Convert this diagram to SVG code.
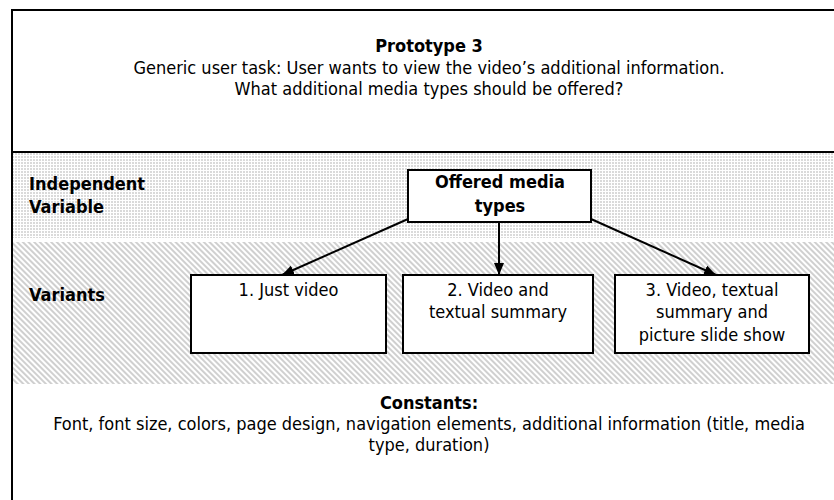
<svg xmlns="http://www.w3.org/2000/svg" width="834" height="500" viewBox="0 0 834 500">
  <style>
    text { font-family: "DejaVu Sans Condensed", "DejaVu Sans", sans-serif; font-size: 18px; fill: #000; }
    .b { font-weight: bold; }
    .c { text-anchor: middle; }
    .box { fill: #fff; stroke: #000; stroke-width: 2; }
    .conn { stroke: #000; stroke-width: 2; fill: none; marker-end: url(#arrow); }
  </style>
  <defs>
    <pattern id="dots" width="3" height="3" patternUnits="userSpaceOnUse">
      <rect width="3" height="3" fill="#fff"/>
      <rect width="2" height="2" fill="#dadada"/>
    </pattern>
    <pattern id="diag" width="4" height="4" patternUnits="userSpaceOnUse" patternTransform="rotate(-45)">
      <rect width="4" height="4" fill="#fff"/>
      <line x1="1" y1="0" x2="1" y2="4" stroke="#c4c4c4" stroke-width="1.6"/>
    </pattern>
    <marker id="arrow" viewBox="0 0 12 10" refX="12" refY="5" markerWidth="12" markerHeight="10" markerUnits="userSpaceOnUse" orient="auto">
      <path d="M0,0 L12,5 L0,10 z" fill="#000"/>
    </marker>
  </defs>

  <!-- background and frame -->
  <rect width="834" height="500" fill="#fff"/>
  <rect x="13" y="153" width="821" height="85" fill="url(#dots)"/>
  <rect x="13" y="242" width="821" height="142" fill="url(#diag)"/>
  <line x1="11" y1="10" x2="834" y2="10" stroke="#000" stroke-width="2"/>
  <line x1="12" y1="9" x2="12" y2="500" stroke="#000" stroke-width="2"/>
  <line x1="13" y1="152" x2="834" y2="152" stroke="#000" stroke-width="2"/>

  <!-- heading -->
  <g id="title">
    <text class="b c" x="429" y="52">Prototype 3</text>
    <text class="c" x="429" y="74">Generic user task: User wants to view the video’s additional information.</text>
    <text class="c" x="429" y="95">What additional media types should be offered?</text>
  </g>

  <!-- row labels -->
  <g id="label-independent">
    <text class="b" x="29" y="190">Independent</text>
    <text class="b" x="29" y="213">Variable</text>
  </g>
  <g id="label-variants">
    <text class="b" x="29" y="301">Variants</text>
  </g>

  <!-- connectors -->
  <g id="connectors">
    <line class="conn" x1="408" y1="219" x2="282" y2="275"/>
    <line class="conn" x1="499" y1="223" x2="499" y2="275"/>
    <line class="conn" x1="591" y1="219" x2="716" y2="275"/>
  </g>

  <!-- nodes -->
  <g id="node-media">
    <rect class="box" x="408" y="170" width="183" height="52"/>
    <text class="b c" x="500" y="188">Offered media</text>
    <text class="b c" x="500" y="212">types</text>
  </g>
  <g id="node-variant1">
    <rect class="box" x="191" y="275" width="195" height="78"/>
    <text class="c" x="288.5" y="296">1. Just video</text>
  </g>
  <g id="node-variant2">
    <rect class="box" x="403" y="275" width="190" height="78"/>
    <text class="c" x="498" y="296">2. Video and</text>
    <text class="c" x="498" y="318">textual summary</text>
  </g>
  <g id="node-variant3">
    <rect class="box" x="615" y="275" width="194" height="78"/>
    <text class="c" x="712" y="296">3. Video, textual</text>
    <text class="c" x="712" y="318">summary and</text>
    <text class="c" x="712" y="341">picture slide show</text>
  </g>

  <!-- constants -->
  <g id="constants">
    <text class="b c" x="429" y="409">Constants:</text>
    <text class="c" x="429" y="430">Font, font size, colors, page design, navigation elements, additional information (title, media</text>
    <text class="c" x="429" y="451">type, duration)</text>
  </g>
</svg>
